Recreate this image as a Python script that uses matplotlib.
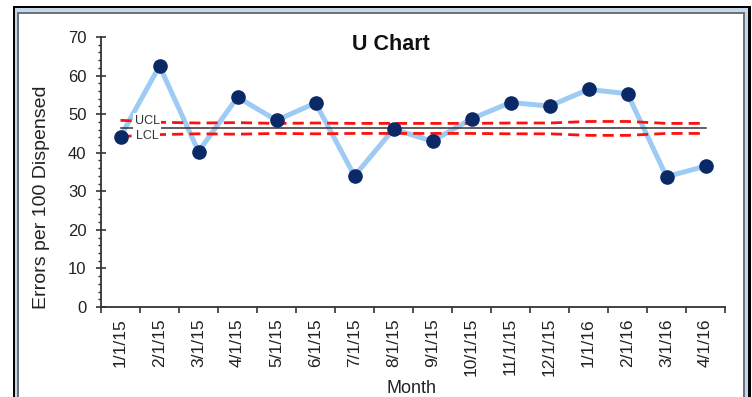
import matplotlib
matplotlib.use("Agg")
import matplotlib.pyplot as plt
import numpy as np
from matplotlib.ticker import MultipleLocator, FixedLocator, NullFormatter

plt.rcParams['font.family'] = ['Liberation Sans', 'DejaVu Sans']

months = ['1/1/15', '2/1/15', '3/1/15', '4/1/15', '5/1/15', '6/1/15', '7/1/15', '8/1/15',
          '9/1/15', '10/1/15', '11/1/15', '12/1/15', '1/1/16', '2/1/16', '3/1/16', '4/1/16']
errors_rate = [44.2, 62.5, 40.3, 54.4, 48.4, 52.9, 34.0, 46.1,
               43.0, 48.8, 53.0, 52.1, 56.4, 55.3, 33.8, 36.5]
ucl = [48.4, 47.9, 47.7, 47.8, 47.6, 47.7, 47.6, 47.6,
       47.6, 47.6, 47.7, 47.7, 48.1, 48.1, 47.6, 47.6]
lcl = [44.2, 44.7, 44.9, 44.8, 45.0, 44.9, 45.0, 45.0,
       45.0, 45.0, 44.9, 44.9, 44.5, 44.5, 45.0, 45.0]
center = 46.3

W, H = 752, 397
fig = plt.figure(figsize=(W / 100, H / 100), dpi=100)
fig.patch.set_facecolor('white')

# open-bottom panel frame as a pixel overlay: black outer, light blue band, grey inner
panel = np.zeros((H, W, 4))


def fill(cols, rows, rgb):
    panel[rows, cols, :3] = rgb
    panel[rows, cols, 3] = 1.0


black = (0.0, 0.0, 0.0)
blue = (0.765, 0.851, 0.918)
grey = (0.435, 0.447, 0.463)
fill(slice(13, 751), slice(6, 8), black)
fill(slice(13, 15), slice(6, H), black)
fill(slice(748, 751), slice(6, H), black)
fill(slice(15, 748), slice(8, 12), blue)
fill(slice(15, 17), slice(8, H), blue)
fill(slice(745, 748), slice(8, H), blue)
fill(slice(17, 745), slice(12, 14), grey)
fill(slice(17, 19), slice(12, H), grey)
fill(slice(743, 745), slice(12, H), grey)
fig.figimage(panel, xo=0, yo=0, origin='upper', zorder=-10)

ax = fig.add_axes([101 / W, 1 - 307 / H, 624 / W, 270 / H])
ax.set_facecolor('none')

x = list(range(len(months)))
dash = (0, (4, 2.2))
ax.plot(x, errors_rate, color='#9ecbf4', lw=3.6, zorder=2, solid_joinstyle='round')
ax.plot(x, ucl, color='#ff1010', lw=2.0, ls=dash, zorder=3)
ax.plot(x, lcl, color='#ff1010', lw=2.0, ls=dash, zorder=3)
ax.plot([x[0], x[-1]], [center, center], color='#333333', lw=1.1, zorder=3)
ax.plot(x, errors_rate, ls='none', marker='o', ms=9.5, color='#0b2966',
        markeredgecolor='#0b2966', zorder=5)

box = dict(facecolor='white', edgecolor='none', pad=1.2)
ax.text(0.68, ucl[0] - 0.2, 'UCL', fontsize=9, color='#333333', ha='center',
        va='center', bbox=box, zorder=4)
ax.text(0.68, lcl[0] + 0.1, 'LCL', fontsize=9, color='#333333', ha='center',
        va='center', bbox=box, zorder=4)

ax.set_xlim(-0.5, len(months) - 0.5)
ax.set_ylim(0, 70)

for side in ('top', 'right'):
    ax.spines[side].set_visible(False)
for side in ('left', 'bottom'):
    ax.spines[side].set_color('#333333')
    ax.spines[side].set_linewidth(1.3)

ax.yaxis.set_major_locator(MultipleLocator(10))
ax.yaxis.set_minor_locator(MultipleLocator(2))
ax.tick_params(axis='y', which='major', direction='inout', length=7, width=1.2,
               color='#333333', labelsize=12, labelcolor='#222222', pad=7)
ax.tick_params(axis='y', which='minor', direction='out', length=2.5, width=1.0,
               color='#333333')

ax.xaxis.set_major_locator(FixedLocator([i - 0.5 for i in range(len(months) + 1)]))
ax.xaxis.set_major_formatter(NullFormatter())
ax.xaxis.set_minor_locator(FixedLocator(x))
ax.set_xticklabels(months, minor=True, rotation=90, fontsize=12.5, color='#222222')
ax.tick_params(axis='x', which='major', direction='out', length=4, width=1.2, color='#333333')
ax.tick_params(axis='x', which='minor', length=0, pad=8)

fig.text(391 / W, 1 - 45 / H, 'U Chart', ha='center', va='center', fontsize=15.5,
         fontweight='bold', color='#111111')
fig.text(42 / W, 1 - 197 / H, 'Errors per 100 Dispensed', rotation=90, ha='center',
         va='center', fontsize=14, color='#222222')
fig.text(412 / W, 1 - 380 / H, 'Month', ha='center', va='top', fontsize=13,
         color='#222222')

fig.savefig('out.png', dpi=100)
